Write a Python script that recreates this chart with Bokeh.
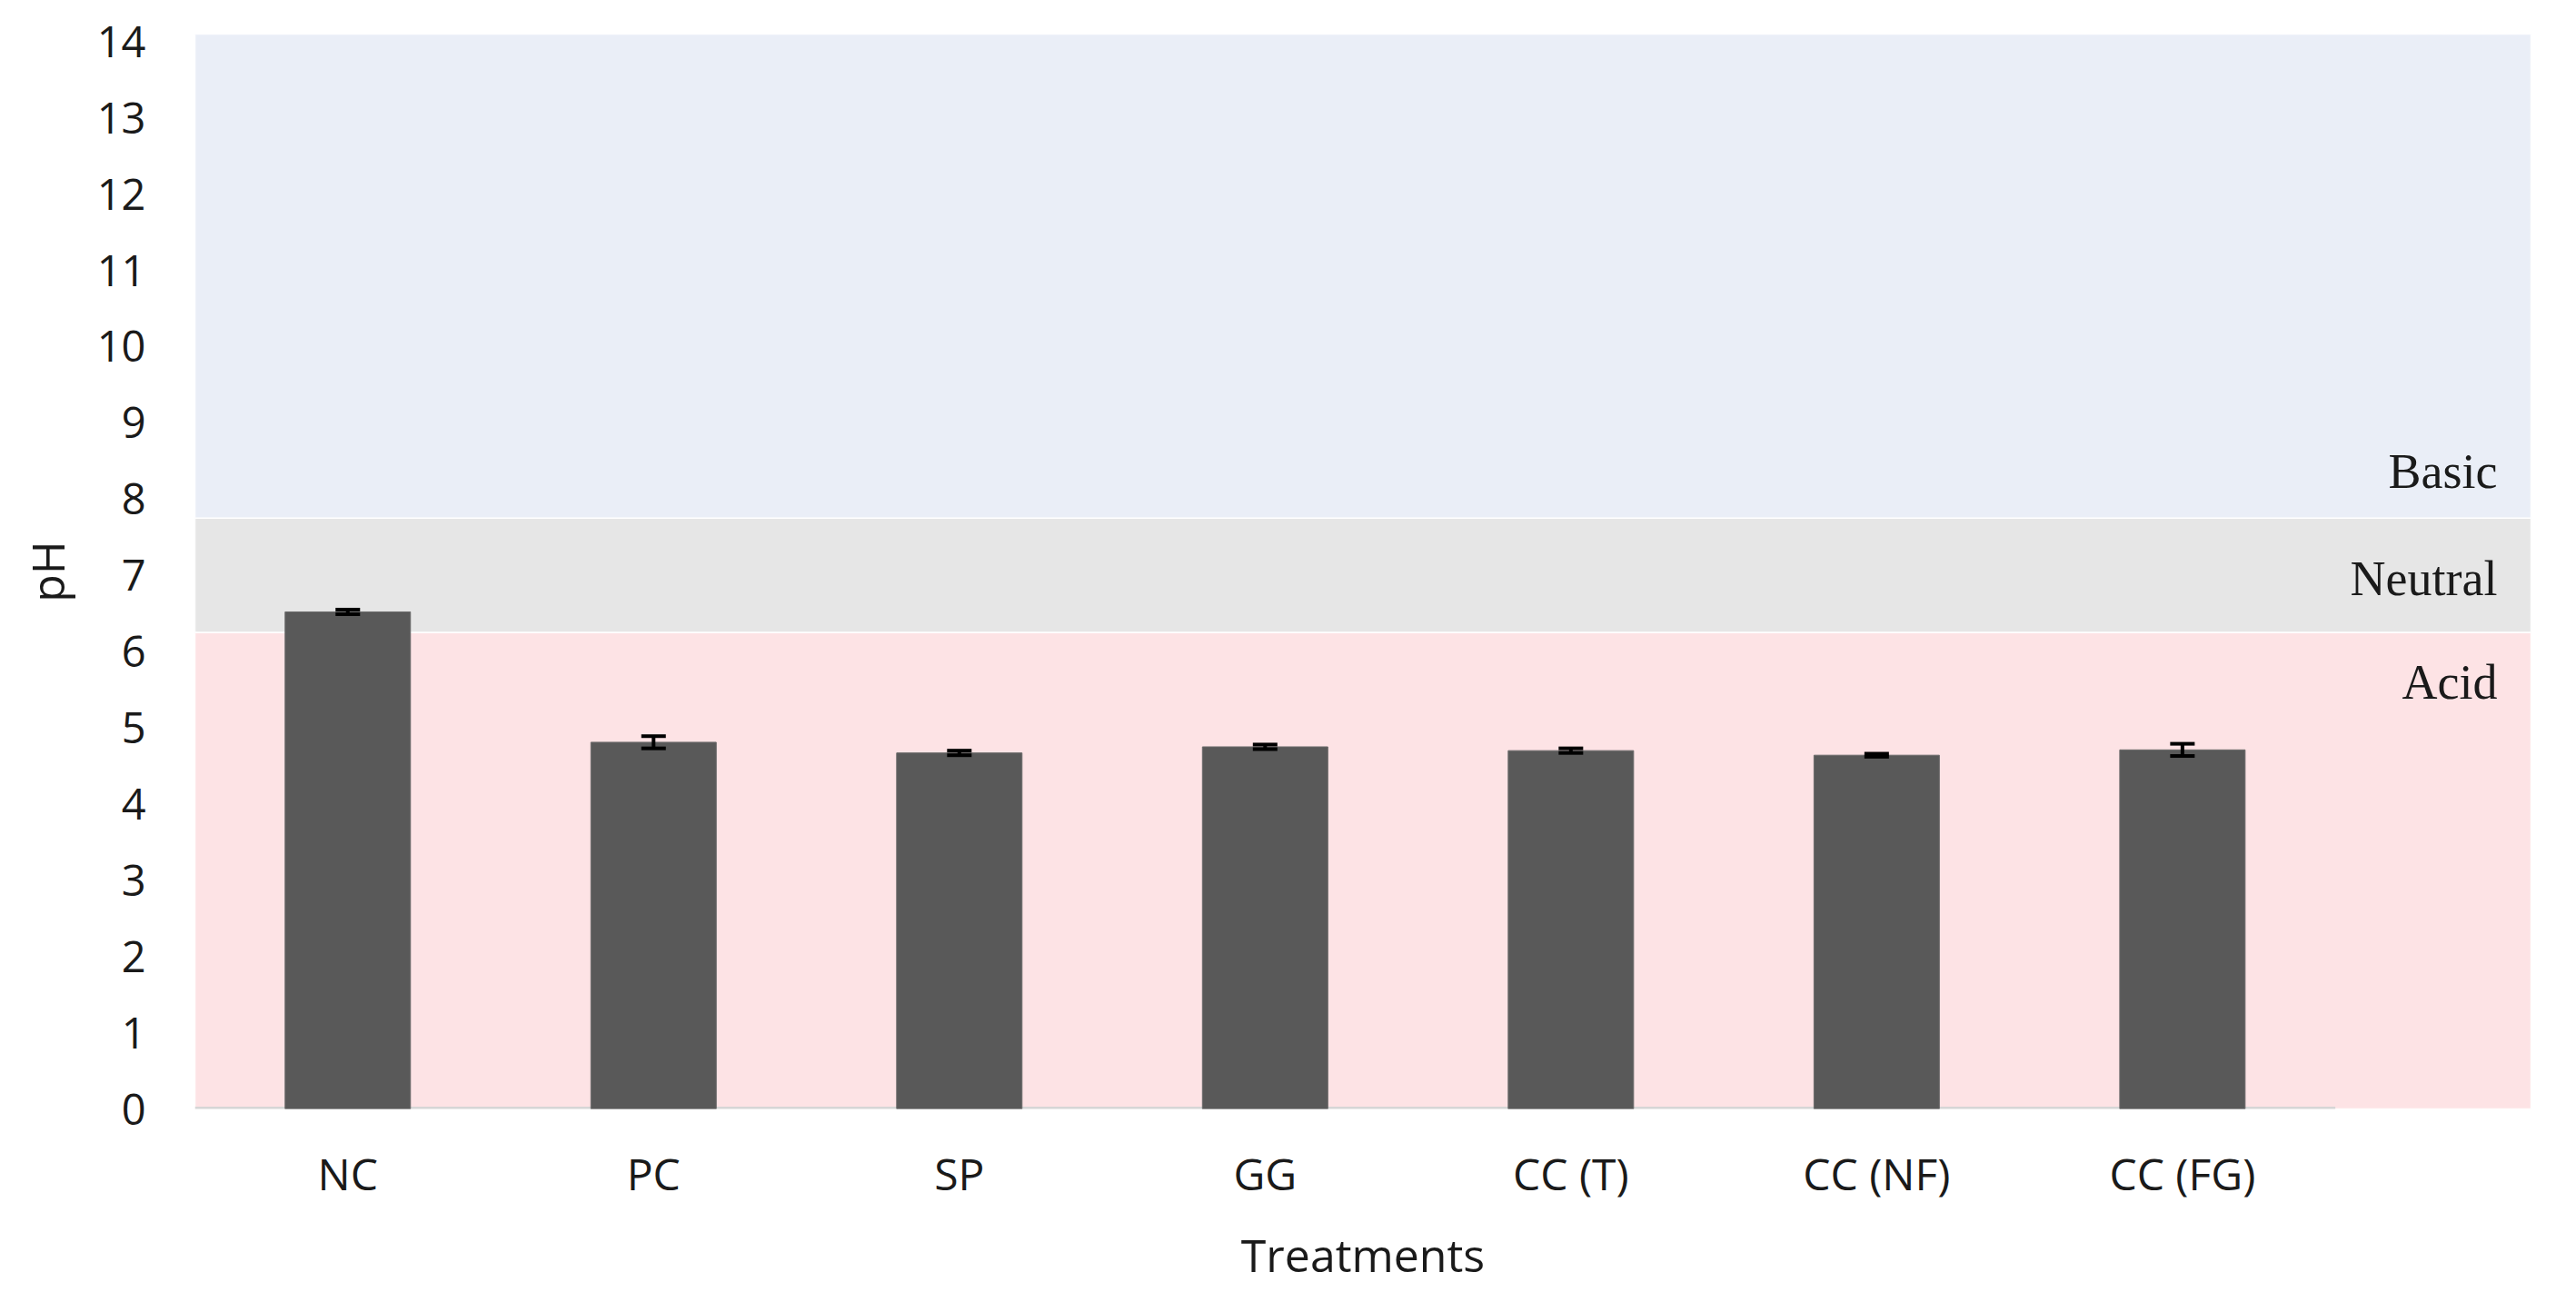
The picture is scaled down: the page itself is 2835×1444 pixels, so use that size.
from bokeh.plotting import figure
from bokeh.models import ColumnDataSource, Range1d, FixedTicker, Whisker, TeeHead, Label
from bokeh.embed import file_html
from bokeh.resources import INLINE

# ---- data ----
categories = ["NC", "PC", "SP", "GG", "CC (T)", "CC (NF)", "CC (FG)"]
ph_mean = [6.52, 4.81, 4.67, 4.75, 4.70, 4.64, 4.71]
ph_err = [0.03, 0.08, 0.03, 0.03, 0.03, 0.02, 0.08]

band_names = ["Acid", "Neutral", "Basic"]
band_low = [0.0, 6.25, 7.75]
band_high = [6.25, 7.75, 14.1]
band_colors = ["#fde3e5", "#e6e6e6", "#eaeef7"]
band_label_y = [5.59, 6.96, 8.36]

y_ticks = list(range(0, 15))

# ---- figure ----
n = len(categories)
x_lo, x_hi = -0.5, n + 0.14
p = figure(width=2819, height=1428, output_backend="svg", toolbar_location=None,
           x_range=Range1d(x_lo, x_hi), y_range=Range1d(0, 14.1),
           min_border_left=214, min_border_right=34, min_border_top=37, min_border_bottom=208)
p.outline_line_color = None
p.grid.visible = False
p.background_fill_color = "white"

# background bands
p.quad(left=[x_lo] * len(band_low), right=[x_hi] * len(band_low), bottom=band_low, top=band_high,
       fill_color=band_colors, line_color="white", line_width=1.5)

# axis line (only under the categories)
p.segment(x0=[-0.5], y0=[0], x1=[n - 0.5], y1=[0], line_color="#d6d6d6", line_width=5)

# bars
xs = list(range(n))
src = ColumnDataSource(dict(x=xs, top=ph_mean,
                            upper=[m + e for m, e in zip(ph_mean, ph_err)],
                            lower=[m - e for m, e in zip(ph_mean, ph_err)]))
p.vbar(x="x", top="top", width=0.41, source=src, fill_color="#595959", line_color="#6a6a6a", line_width=1)

w = Whisker(base="x", upper="upper", lower="lower", source=src, line_color="black", line_width=4,
            level="overlay",
            upper_head=TeeHead(size=27, line_width=4, line_color="black"),
            lower_head=TeeHead(size=27, line_width=4, line_color="black"))
p.add_layout(w)

# band labels
for name, yv in zip(band_names, band_label_y):
    p.add_layout(Label(x=2534, y=yv, x_units="screen", text=name, text_align="right",
                       text_baseline="middle", text_font="Liberation Serif", text_font_size="54px",
                       text_color="#1a1a1a"))

# axes
font = "Open Sans"
p.xaxis.ticker = FixedTicker(ticks=xs)
p.xaxis.major_label_overrides = {i: c for i, c in enumerate(categories)}
p.xaxis.axis_line_color = None
p.xaxis.major_tick_line_color = None
p.xaxis.minor_tick_line_color = None
p.xaxis.major_label_text_font = font
p.xaxis.major_label_text_font_size = "48px"
p.xaxis.major_label_text_color = "#1a1a1a"
p.xaxis.major_label_standoff = 32
p.xaxis.axis_label = "Treatments"
p.xaxis.axis_label_text_font = font
p.xaxis.axis_label_text_font_size = "50px"
p.xaxis.axis_label_text_font_style = "normal"
p.xaxis.axis_label_text_color = "#1a1a1a"
p.xaxis.axis_label_standoff = 20

p.yaxis.ticker = FixedTicker(ticks=y_ticks)
p.yaxis.axis_line_color = None
p.yaxis.major_tick_line_color = None
p.yaxis.minor_tick_line_color = None
p.yaxis.major_label_text_font = font
p.yaxis.major_label_text_font_size = "47px"
p.yaxis.major_label_text_color = "#1a1a1a"
p.yaxis.major_label_standoff = 48
p.yaxis.axis_label = "pH"
p.yaxis.axis_label_text_font = font
p.yaxis.axis_label_text_font_size = "50px"
p.yaxis.axis_label_text_font_style = "normal"
p.yaxis.axis_label_text_color = "#1a1a1a"
p.yaxis.axis_label_standoff = 18

open("out.html", "w").write(file_html(p, INLINE))
